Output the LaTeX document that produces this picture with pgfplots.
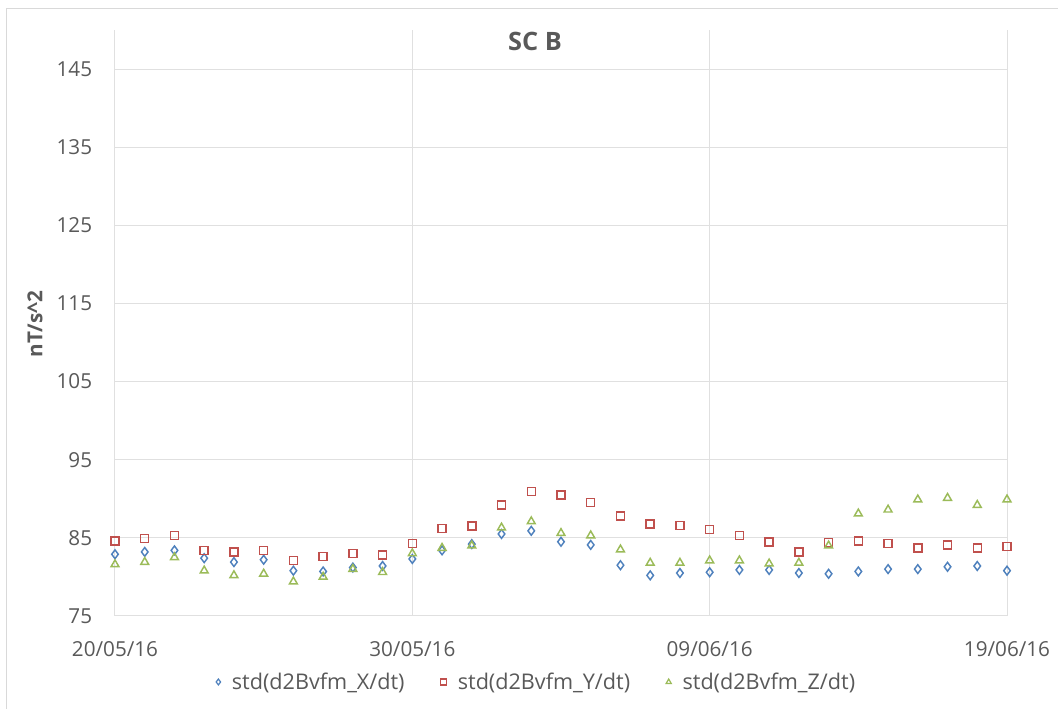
\documentclass[border=0pt]{standalone}
\usepackage{pgfplots}
\pgfplotsset{compat=1.18}
\usepackage{fontspec}
\setmainfont{Open Sans}
\definecolor{cblue}{HTML}{4F81BD}
\definecolor{cred}{HTML}{C0504D}
\definecolor{cgreen}{HTML}{9BBB59}
\definecolor{txtgrey}{HTML}{595959}
\definecolor{gridgrey}{HTML}{E0E0E0}
\definecolor{bordergrey}{HTML}{D9D9D9}
\pgfdeclareplotmark{osq}{%
  \pgfpathmoveto{\pgfqpoint{-\pgfplotmarksize}{-\pgfplotmarksize}}%
  \pgfpathlineto{\pgfqpoint{\pgfplotmarksize}{-\pgfplotmarksize}}%
  \pgfpathlineto{\pgfqpoint{\pgfplotmarksize}{\pgfplotmarksize}}%
  \pgfpathlineto{\pgfqpoint{-\pgfplotmarksize}{\pgfplotmarksize}}%
  \pgfpathclose
  \pgfusepathqstroke}
\begin{document}
\begin{tikzpicture}
\useasboundingbox (-86.25pt,-69.75pt) rectangle (707.25pt,462pt);
\draw[bordergrey, line width=0.75pt] (-81pt,-69.75pt) -- (-81pt,455.25pt) -- (707.25pt,455.25pt);
\begin{axis}[
  at={(0pt,0pt)}, anchor=south west,
  scale only axis,
  width=669pt, height=439.5pt,
  xmin=0, xmax=30, ymin=75, ymax=150,
  xtick={0,10,20,30},
  xticklabels={20/05/16,30/05/16,09/06/16,19/06/16},
  ytick={75,85,...,145},
  grid=major,
  major grid style={gridgrey, line width=0.75pt},
  axis line style={draw=none},
  major tick length=0pt,
  /pgf/number format/assume math mode=true,
  tick label style={font=\fontsize{15.5}{18}\selectfont, text=txtgrey},
  xticklabel style={inner sep=0pt, anchor=north, yshift=-19pt},
  yticklabel style={inner sep=0pt, anchor=east, xshift=-17pt},
  legend style={at={(0.4731,-0.1126)}, anchor=center, draw=none,
    font=\fontsize{16.2}{19}\selectfont, text=txtgrey, legend columns=3,
    /tikz/every odd column/.append style={column sep=6.5pt},
    /tikz/every even column/.append style={column sep=25pt}},
  legend cell align=left,
  legend image code/.code={\draw[#1,mark size=2.2pt, line width=0.9pt] plot coordinates {(0pt,0pt)};},
]
\addplot[only marks, mark=diamond, mark size=3.3pt, cblue, line width=1.1pt] coordinates {
(0,82.9) (1,83.2) (2,83.4) (3,82.4) (4,81.9) (5,82.2) (6,80.8) (7,80.7) (8,81.2) (9,81.4)
(10,82.3) (11,83.4) (12,84.2) (13,85.5) (14,85.9) (15,84.5) (16,84.1) (17,81.5) (18,80.2) (19,80.5)
(20,80.6) (21,80.9) (22,80.9) (23,80.5) (24,80.4) (25,80.7) (26,81.0) (27,81.0) (28,81.3) (29,81.4) (30,80.8)};
\addlegendentry{std(d2Bvfm\_X/dt)}
\addplot[only marks, mark=osq, mark size=3pt, color=cred, mark options={draw=cred}, line width=1.1pt] coordinates {
(0,84.6) (1,84.9) (2,85.3) (3,83.4) (4,83.2) (5,83.4) (6,82.1) (7,82.6) (8,83.0) (9,82.8)
(10,84.3) (11,86.2) (12,86.5) (13,89.2) (14,90.9) (15,90.5) (16,89.5) (17,87.8) (18,86.8) (19,86.6)
(20,86.1) (21,85.3) (22,84.5) (23,83.2) (24,84.4) (25,84.6) (26,84.3) (27,83.7) (28,84.1) (29,83.7) (30,83.9)};
\addlegendentry{std(d2Bvfm\_Y/dt)}
\addplot[only marks, mark=triangle, mark size=3.4pt, cgreen, line width=1.1pt] coordinates {
(0,81.6) (1,81.9) (2,82.5) (3,80.8) (4,80.2) (5,80.4) (6,79.4) (7,80.0) (8,81.0) (9,80.6)
(10,83.0) (11,83.7) (12,84.0) (13,86.3) (14,87.1) (15,85.6) (16,85.3) (17,83.5) (18,81.8) (19,81.8)
(20,82.1) (21,82.1) (22,81.7) (23,81.8) (24,84.0) (25,88.1) (26,88.6) (27,89.9) (28,90.1) (29,89.2) (30,89.9)};
\addlegendentry{std(d2Bvfm\_Z/dt)}
\end{axis}
\node[font=\fontsize{19}{22}\selectfont\bfseries, text=txtgrey] at (315pt,431pt) {SC B};
\node[font=\fontsize{15.5}{18}\selectfont\bfseries, text=txtgrey, rotate=90] at (-60pt,219pt) {nT/s\textasciicircum 2};
\end{tikzpicture}
\end{document}
